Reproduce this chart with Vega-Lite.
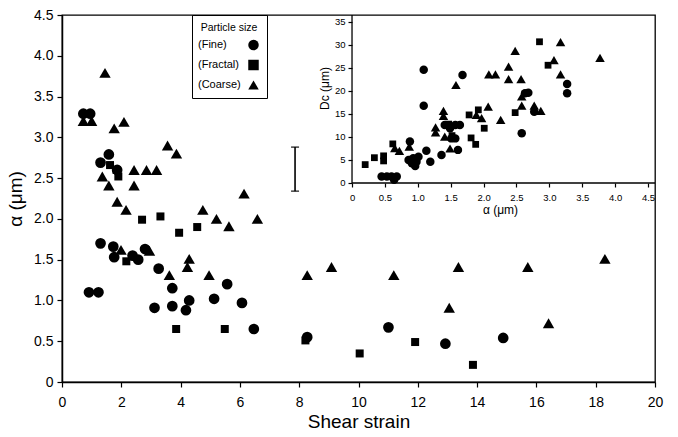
{
  "$schema": "https://vega.github.io/schema/vega-lite/v6.json",
  "width": 593,
  "height": 367,
  "autosize": {"type": "none"},
  "padding": {"left": 62, "top": 15, "right": 23, "bottom": 55},
  "background": "white",
  "config": {
    "font": "Liberation Sans",
    "view": {"stroke": "black", "strokeWidth": 1.3},
    "axis": {"grid": false, "domainColor": "black", "domainWidth": 1.5, "tickColor": "black", "tickWidth": 1.2, "labelColor": "black", "titleColor": "black", "titleFontWeight": "normal", "labelFlush": false}
  },
  "datasets": {
    "main": [
      {"strain": 0.72, "alpha": 3.29, "particle": "Fine"},
      {"strain": 0.95, "alpha": 3.29, "particle": "Fine"},
      {"strain": 1.30, "alpha": 2.69, "particle": "Fine"},
      {"strain": 1.58, "alpha": 2.79, "particle": "Fine"},
      {"strain": 1.86, "alpha": 2.60, "particle": "Fine"},
      {"strain": 1.30, "alpha": 1.70, "particle": "Fine"},
      {"strain": 1.73, "alpha": 1.66, "particle": "Fine"},
      {"strain": 1.76, "alpha": 1.53, "particle": "Fine"},
      {"strain": 2.38, "alpha": 1.55, "particle": "Fine"},
      {"strain": 2.57, "alpha": 1.50, "particle": "Fine"},
      {"strain": 2.80, "alpha": 1.63, "particle": "Fine"},
      {"strain": 3.26, "alpha": 1.39, "particle": "Fine"},
      {"strain": 0.91, "alpha": 1.10, "particle": "Fine"},
      {"strain": 1.23, "alpha": 1.10, "particle": "Fine"},
      {"strain": 3.12, "alpha": 0.91, "particle": "Fine"},
      {"strain": 3.72, "alpha": 0.93, "particle": "Fine"},
      {"strain": 3.72, "alpha": 1.15, "particle": "Fine"},
      {"strain": 4.18, "alpha": 0.88, "particle": "Fine"},
      {"strain": 4.29, "alpha": 1.00, "particle": "Fine"},
      {"strain": 5.13, "alpha": 1.02, "particle": "Fine"},
      {"strain": 5.57, "alpha": 1.20, "particle": "Fine"},
      {"strain": 6.07, "alpha": 0.97, "particle": "Fine"},
      {"strain": 6.47, "alpha": 0.65, "particle": "Fine"},
      {"strain": 8.27, "alpha": 0.55, "particle": "Fine"},
      {"strain": 11.01, "alpha": 0.67, "particle": "Fine"},
      {"strain": 12.93, "alpha": 0.47, "particle": "Fine"},
      {"strain": 14.88, "alpha": 0.54, "particle": "Fine"},
      {"strain": 1.62, "alpha": 2.66, "particle": "Fractal"},
      {"strain": 1.84, "alpha": 2.60, "particle": "Fractal"},
      {"strain": 1.90, "alpha": 2.52, "particle": "Fractal"},
      {"strain": 2.70, "alpha": 1.99, "particle": "Fractal"},
      {"strain": 3.32, "alpha": 2.03, "particle": "Fractal"},
      {"strain": 3.95, "alpha": 1.83, "particle": "Fractal"},
      {"strain": 4.56, "alpha": 1.90, "particle": "Fractal"},
      {"strain": 2.17, "alpha": 1.48, "particle": "Fractal"},
      {"strain": 3.85, "alpha": 0.65, "particle": "Fractal"},
      {"strain": 5.49, "alpha": 0.65, "particle": "Fractal"},
      {"strain": 8.21, "alpha": 0.51, "particle": "Fractal"},
      {"strain": 10.04, "alpha": 0.35, "particle": "Fractal"},
      {"strain": 11.91, "alpha": 0.49, "particle": "Fractal"},
      {"strain": 13.86, "alpha": 0.21, "particle": "Fractal"},
      {"strain": 0.72, "alpha": 3.20, "particle": "Coarse"},
      {"strain": 1.00, "alpha": 3.20, "particle": "Coarse"},
      {"strain": 1.45, "alpha": 3.79, "particle": "Coarse"},
      {"strain": 1.76, "alpha": 3.11, "particle": "Coarse"},
      {"strain": 2.09, "alpha": 3.19, "particle": "Coarse"},
      {"strain": 1.36, "alpha": 2.52, "particle": "Coarse"},
      {"strain": 1.58, "alpha": 2.41, "particle": "Coarse"},
      {"strain": 2.43, "alpha": 2.60, "particle": "Coarse"},
      {"strain": 2.43, "alpha": 2.41, "particle": "Coarse"},
      {"strain": 2.85, "alpha": 2.60, "particle": "Coarse"},
      {"strain": 3.19, "alpha": 2.60, "particle": "Coarse"},
      {"strain": 3.56, "alpha": 2.90, "particle": "Coarse"},
      {"strain": 3.86, "alpha": 2.80, "particle": "Coarse"},
      {"strain": 1.86, "alpha": 2.21, "particle": "Coarse"},
      {"strain": 2.16, "alpha": 2.11, "particle": "Coarse"},
      {"strain": 6.14, "alpha": 2.31, "particle": "Coarse"},
      {"strain": 4.75, "alpha": 2.11, "particle": "Coarse"},
      {"strain": 5.21, "alpha": 2.00, "particle": "Coarse"},
      {"strain": 5.63, "alpha": 1.91, "particle": "Coarse"},
      {"strain": 6.59, "alpha": 2.00, "particle": "Coarse"},
      {"strain": 1.99, "alpha": 1.62, "particle": "Coarse"},
      {"strain": 2.95, "alpha": 1.61, "particle": "Coarse"},
      {"strain": 3.62, "alpha": 1.31, "particle": "Coarse"},
      {"strain": 4.29, "alpha": 1.51, "particle": "Coarse"},
      {"strain": 4.23, "alpha": 1.41, "particle": "Coarse"},
      {"strain": 4.96, "alpha": 1.31, "particle": "Coarse"},
      {"strain": 8.27, "alpha": 1.31, "particle": "Coarse"},
      {"strain": 9.09, "alpha": 1.41, "particle": "Coarse"},
      {"strain": 11.19, "alpha": 1.31, "particle": "Coarse"},
      {"strain": 13.37, "alpha": 1.41, "particle": "Coarse"},
      {"strain": 15.71, "alpha": 1.41, "particle": "Coarse"},
      {"strain": 18.31, "alpha": 1.51, "particle": "Coarse"},
      {"strain": 13.06, "alpha": 0.91, "particle": "Coarse"},
      {"strain": 16.41, "alpha": 0.72, "particle": "Coarse"}
    ],
    "err": [
      {"strain": 7.86, "lo": 2.34, "hi": 2.88}
    ],
    "frame": [
      {"a": 0, "a2": 0, "dc": 0, "dc2": 36.52},
      {"a": 0, "a2": 4.606, "dc": 0, "dc2": 0}
    ],
    "inset": [
      {"a": 0.45, "dc": 1.4, "particle": "Fine"},
      {"a": 0.53, "dc": 1.4, "particle": "Fine"},
      {"a": 0.60, "dc": 1.4, "particle": "Fine"},
      {"a": 0.68, "dc": 1.4, "particle": "Fine"},
      {"a": 0.64, "dc": 0.7, "particle": "Fine"},
      {"a": 0.88, "dc": 9.0, "particle": "Fine"},
      {"a": 0.86, "dc": 5.0, "particle": "Fine"},
      {"a": 0.93, "dc": 5.4, "particle": "Fine"},
      {"a": 0.98, "dc": 4.6, "particle": "Fine"},
      {"a": 0.96, "dc": 3.7, "particle": "Fine"},
      {"a": 1.01, "dc": 5.7, "particle": "Fine"},
      {"a": 0.91, "dc": 4.3, "particle": "Fine"},
      {"a": 1.13, "dc": 7.0, "particle": "Fine"},
      {"a": 1.19, "dc": 4.6, "particle": "Fine"},
      {"a": 1.09, "dc": 24.6, "particle": "Fine"},
      {"a": 1.09, "dc": 16.8, "particle": "Fine"},
      {"a": 1.36, "dc": 6.1, "particle": "Fine"},
      {"a": 1.61, "dc": 7.2, "particle": "Fine"},
      {"a": 1.41, "dc": 12.6, "particle": "Fine"},
      {"a": 1.49, "dc": 11.9, "particle": "Fine"},
      {"a": 1.57, "dc": 12.6, "particle": "Fine"},
      {"a": 1.64, "dc": 12.6, "particle": "Fine"},
      {"a": 1.51, "dc": 9.7, "particle": "Fine"},
      {"a": 1.57, "dc": 9.7, "particle": "Fine"},
      {"a": 1.68, "dc": 23.5, "particle": "Fine"},
      {"a": 2.63, "dc": 19.5, "particle": "Fine"},
      {"a": 2.68, "dc": 19.6, "particle": "Fine"},
      {"a": 2.77, "dc": 15.5, "particle": "Fine"},
      {"a": 2.58, "dc": 10.8, "particle": "Fine"},
      {"a": 3.27, "dc": 21.5, "particle": "Fine"},
      {"a": 3.27, "dc": 19.5, "particle": "Fine"},
      {"a": 0.20, "dc": 4.0, "particle": "Fractal"},
      {"a": 0.34, "dc": 5.5, "particle": "Fractal"},
      {"a": 0.48, "dc": 5.9, "particle": "Fractal"},
      {"a": 0.48, "dc": 4.8, "particle": "Fractal"},
      {"a": 0.62, "dc": 8.5, "particle": "Fractal"},
      {"a": 1.47, "dc": 12.8, "particle": "Fractal"},
      {"a": 1.52, "dc": 10.3, "particle": "Fractal"},
      {"a": 1.78, "dc": 14.8, "particle": "Fractal"},
      {"a": 1.81, "dc": 9.8, "particle": "Fractal"},
      {"a": 1.88, "dc": 8.4, "particle": "Fractal"},
      {"a": 1.92, "dc": 15.9, "particle": "Fractal"},
      {"a": 2.01, "dc": 11.9, "particle": "Fractal"},
      {"a": 2.48, "dc": 15.3, "particle": "Fractal"},
      {"a": 2.85, "dc": 30.7, "particle": "Fractal"},
      {"a": 2.98, "dc": 25.6, "particle": "Fractal"},
      {"a": 0.65, "dc": 7.6, "particle": "Coarse"},
      {"a": 0.72, "dc": 7.0, "particle": "Coarse"},
      {"a": 0.87, "dc": 7.9, "particle": "Coarse"},
      {"a": 1.27, "dc": 12.1, "particle": "Coarse"},
      {"a": 1.27, "dc": 11.0, "particle": "Coarse"},
      {"a": 1.39, "dc": 15.7, "particle": "Coarse"},
      {"a": 1.39, "dc": 14.6, "particle": "Coarse"},
      {"a": 1.41, "dc": 10.1, "particle": "Coarse"},
      {"a": 1.49, "dc": 7.5, "particle": "Coarse"},
      {"a": 1.58, "dc": 21.3, "particle": "Coarse"},
      {"a": 1.89, "dc": 14.8, "particle": "Coarse"},
      {"a": 1.97, "dc": 14.1, "particle": "Coarse"},
      {"a": 2.07, "dc": 16.6, "particle": "Coarse"},
      {"a": 2.08, "dc": 23.6, "particle": "Coarse"},
      {"a": 2.18, "dc": 23.6, "particle": "Coarse"},
      {"a": 2.26, "dc": 13.7, "particle": "Coarse"},
      {"a": 2.38, "dc": 25.3, "particle": "Coarse"},
      {"a": 2.38, "dc": 22.6, "particle": "Coarse"},
      {"a": 2.48, "dc": 28.7, "particle": "Coarse"},
      {"a": 2.57, "dc": 22.6, "particle": "Coarse"},
      {"a": 2.58, "dc": 18.8, "particle": "Coarse"},
      {"a": 2.58, "dc": 16.8, "particle": "Coarse"},
      {"a": 2.77, "dc": 16.8, "particle": "Coarse"},
      {"a": 2.87, "dc": 15.7, "particle": "Coarse"},
      {"a": 3.07, "dc": 26.7, "particle": "Coarse"},
      {"a": 3.17, "dc": 30.6, "particle": "Coarse"},
      {"a": 3.17, "dc": 23.6, "particle": "Coarse"},
      {"a": 3.77, "dc": 27.2, "particle": "Coarse"}
    ]
  },
  "layer": [
    {
      "layer": [
        {
          "data": {"name": "main"},
          "mark": {"type": "point", "filled": true, "color": "black", "opacity": 1},
          "encoding": {
            "x": {"field": "strain", "type": "quantitative", "scale": {"domain": [0, 20], "nice": false, "zero": false},
              "axis": {"title": "Shear strain", "values": [0, 2, 4, 6, 8, 10, 12, 14, 16, 18, 20], "tickSize": 5, "labelFontSize": 14, "labelPadding": 8, "titleFontSize": 19, "titlePadding": 3}},
            "y": {"field": "alpha", "type": "quantitative", "scale": {"domain": [0, 4.5], "nice": false, "zero": false},
              "axis": {"title": "α (μm)", "values": [0, 0.5, 1, 1.5, 2, 2.5, 3, 3.5, 4, 4.5], "labelExpr": "datum.value === 0 ? '0' : format(datum.value, '.1f')", "tickSize": 5, "labelFontSize": 14, "labelPadding": 4, "titleFontSize": 19, "titlePadding": 8}},
            "shape": {"field": "particle", "type": "nominal",
              "scale": {"domain": ["Fine", "Fractal", "Coarse"], "range": ["circle", "square", "triangle-up"]},
              "legend": {"title": "Particle size", "orient": "none", "legendX": 130, "legendY": 0,
                "titleFontSize": 10.5, "titleFontWeight": "normal", "titleAnchor": "middle", "titlePadding": 6, "titleColor": "black",
                "labelExpr": "'(' + datum.label + ')'", "labelFontSize": 11, "labelColor": "black", "labelOffset": -61, "symbolOffset": 48,
                "strokeColor": "black", "padding": 8, "rowPadding": 8, "symbolSize": 110, "symbolFillColor": "black", "symbolStrokeColor": "black", "symbolStrokeWidth": 0}},
            "size": {"field": "particle", "type": "nominal", "scale": {"type": "ordinal", "domain": ["Fine", "Fractal", "Coarse"], "range": [115, 64, 130]}, "legend": null}
          }
        },
        {
          "data": {"name": "err"},
          "mark": {"type": "errorbar", "color": "black", "thickness": 1.6, "ticks": {"size": 8, "thickness": 1.6, "color": "black"}},
          "encoding": {
            "x": {"field": "strain", "type": "quantitative", "title": "Shear strain"},
            "y": {"field": "lo", "type": "quantitative", "title": "α (μm)"},
            "y2": {"field": "hi"}
          }
        }
      ]
    },
    {
      "layer": [
        {
          "data": {"name": "frame"},
          "mark": {"type": "rule", "color": "black", "strokeWidth": 1.3},
          "encoding": {
            "x": {"field": "a", "type": "quantitative", "title": "α (μm)", "scale": {"domain": [-4.409, 4.606], "nice": false, "zero": false}},
            "x2": {"field": "a2"},
            "y": {"field": "dc", "type": "quantitative", "title": "Dc (μm)", "scale": {"domain": [-43.26, 36.52], "nice": false, "zero": false}},
            "y2": {"field": "dc2"}
          }
        },
        {
          "data": {"name": "inset"},
          "mark": {"type": "point", "filled": true, "color": "black", "opacity": 1},
          "encoding": {
            "x": {"field": "a", "type": "quantitative", "scale": {"domain": [-4.409, 4.606], "nice": false, "zero": false},
              "axis": {"title": "α (μm)", "orient": "bottom", "offset": -199, "domain": false, "values": [0, 0.5, 1, 1.5, 2, 2.5, 3, 3.5, 4, 4.5], "labelExpr": "datum.value === 0 ? '0' : format(datum.value, '.1f')", "tickSize": 4, "labelFontSize": 9.5, "labelPadding": 5, "titleFontSize": 12, "titleX": 438, "titlePadding": 3}},
            "y": {"field": "dc", "type": "quantitative", "scale": {"domain": [-43.26, 36.52], "nice": false, "zero": false},
              "axis": {"title": "Dc (μm)", "orient": "left", "offset": -290, "domain": false, "values": [0, 5, 10, 15, 20, 25, 30, 35], "tickSize": 4, "labelFontSize": 9.5, "labelPadding": 3, "titleFontSize": 12, "titleY": 73, "titlePadding": 3}},
            "shape": {"field": "particle", "type": "nominal",
              "scale": {"domain": ["Fine", "Fractal", "Coarse"], "range": ["circle", "square", "triangle-up"]}},
            "size": {"field": "particle", "type": "nominal", "scale": {"type": "ordinal", "domain": ["Fine", "Fractal", "Coarse"], "range": [72, 46, 90]}, "legend": null}
          }
        }
      ]
    }
  ],
  "resolve": {
    "scale": {"x": "independent", "y": "independent", "size": "independent"},
    "axis": {"x": "independent", "y": "independent"},
    "legend": {"size": "independent"}
  }
}
